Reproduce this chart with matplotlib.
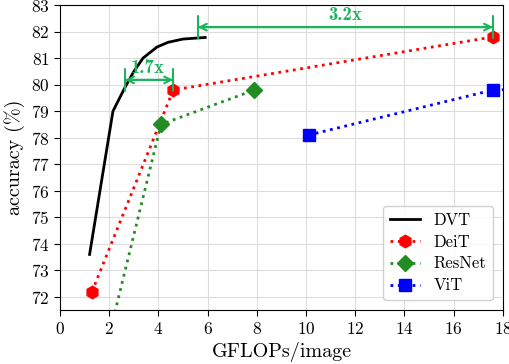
import matplotlib
matplotlib.use("Agg")
import matplotlib.pyplot as plt

plt.rcParams['font.family'] = ['cmr10', 'DejaVu Serif']
plt.rcParams['mathtext.fontset'] = 'cm'
plt.rcParams['axes.formatter.use_mathtext'] = True

dvt_x = [1.2, 2.15, 2.64, 3.0, 3.37, 3.94, 4.4, 5.0, 5.9]
dvt_y = [73.6, 79.0, 79.9, 80.5, 81.0, 81.42, 81.6, 81.72, 81.78]
deit_x = [1.3, 4.6, 17.6]
deit_y = [72.2, 79.8, 81.8]
resnet_x = [1.8, 4.1, 7.9]
resnet_y = [69.8, 78.5, 79.8]
vit_x = [10.1, 17.6, 55.5]
vit_y = [78.1, 79.8, 80.9]

green = '#1db35a'

fig = plt.figure(figsize=(5.09, 3.64), dpi=100)
ax = fig.add_axes([0.118, 0.148, 0.870, 0.838])

ax.plot(dvt_x, dvt_y, '-', color='black', lw=2, label='DVT')
ax.plot(deit_x, deit_y, ':', color='red', lw=2, marker='h', ms=9, label='DeiT')
ax.plot(resnet_x, resnet_y, ':', color='forestgreen', lw=2, marker='D', ms=8, label='ResNet')
ax.plot(vit_x, vit_y, ':', color='blue', lw=2, marker='s', ms=8, label='ViT')

def span(x0, x1, y):
    ax.annotate('', xy=(x0, y), xytext=(x1, y),
                arrowprops=dict(arrowstyle='|-|', color=green, lw=1.5,
                                mutation_scale=8, shrinkA=0, shrinkB=0))
    ax.annotate('', xy=(x0, y), xytext=(x1, y),
                arrowprops=dict(arrowstyle='<->', color=green, lw=1.5,
                                mutation_scale=12, shrinkA=0, shrinkB=0))

span(2.64, 4.6, 80.18)
ax.text(3.55, 80.3, '1.7x', color=green, fontsize=13.5, fontweight='bold',
        family=['cmb10', 'DejaVu Serif'], ha='center', va='bottom')
span(5.6, 17.6, 82.17)
ax.text(11.6, 82.3, '3.2x', color=green, fontsize=13.5, fontweight='bold',
        family=['cmb10', 'DejaVu Serif'], ha='center', va='bottom')

ax.set_xlim(0, 18)
ax.set_ylim(71.5, 83)
ax.set_xticks(range(0, 19, 2))
ax.set_yticks(range(72, 84))
ax.grid(True, color='#dddddd', lw=0.8)
ax.set_axisbelow(True)
ax.tick_params(labelsize=12.5, length=4)
ax.set_xlabel('GFLOPs/image', fontsize=14.5)
ax.set_ylabel('accuracy (%)', fontsize=14.5)
ax.legend(loc='lower right', fontsize=12, framealpha=0.9, edgecolor='#cccccc',
          handlelength=1.8, labelspacing=0.4, borderaxespad=0.6)

fig.savefig('out.png', dpi=100)
